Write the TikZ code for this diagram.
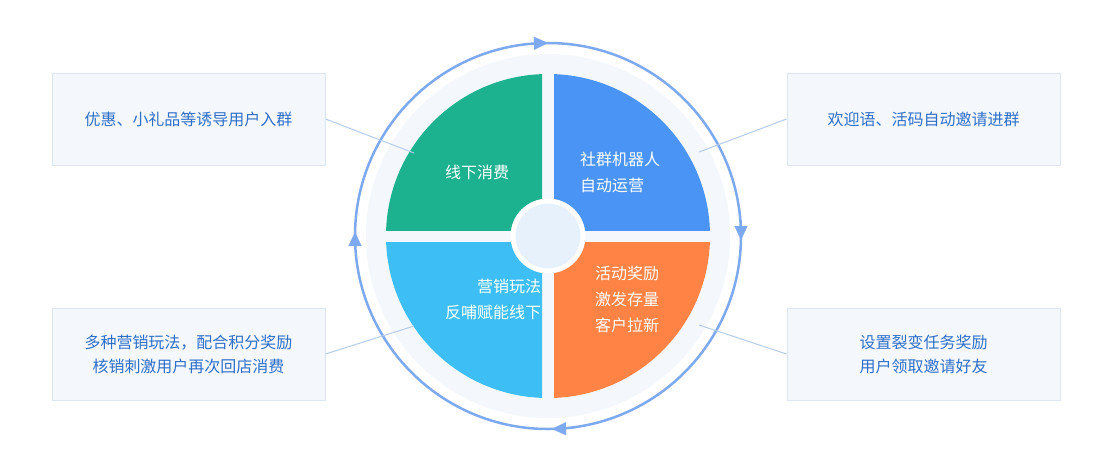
\documentclass[tikz,border=0pt]{standalone}
\usepackage{fontspec}
\setmainfont{Noto Sans CJK SC}
\usetikzlibrary{arrows.meta,calc}
\definecolor{qg}{HTML}{1DB28F}
\definecolor{qb}{HTML}{4A94F5}
\definecolor{qo}{HTML}{FF8344}
\definecolor{qc}{HTML}{3DBFF5}
\definecolor{ring}{HTML}{7DA9EE}
\definecolor{boxf}{HTML}{F4F8FC}
\definecolor{boxd}{HTML}{DCE6F1}
\definecolor{txt}{HTML}{2E6FC8}
\definecolor{lin}{HTML}{B5CDEB}
\definecolor{mid}{HTML}{E6F1FC}
\begin{document}
\begin{tikzpicture}[x=1pt,y=-1pt,
 box/.style={draw=boxd,fill=boxf,line width=1pt,minimum width=273pt,minimum height=92pt,font=\fontsize{16}{24}\selectfont,text=txt,align=center},
 qt/.style={text=white,font=\fontsize{16}{26}\selectfont,align=left},
 con/.style={draw=lin,line width=1pt},
 tip/.style={-{Triangle[length=14pt,width=13pt]}}]
\useasboundingbox (0,0) rectangle (1096,475);
\fill[white] (0,0) rectangle (1096,475);
\coordinate (c) at (548,236);
\fill[boxf] (c) circle (182);
\draw[ring,line width=2.5pt] (c) circle (193);
\foreach \col/\sx/\sy in {qg/-1/-1,qb/1/-1,qo/1/1,qc/-1/1}{
 \begin{scope}
  \clip ($(c)+(\sx*6,\sy*6)$) rectangle ($(c)+(\sx*200,\sy*200)$);
  \fill[\col] (c) circle (162);
 \end{scope}}
\draw[white,line width=5pt,fill=mid] (c) circle (35);
% arrowheads
\draw[ring,tip,line width=0.1pt] (525,43.5) -- (548,43);
\draw[ring,tip,line width=0.1pt] (741,220) -- (741,240);
\draw[ring,tip,line width=0.1pt] (575,428.5) -- (552,429);
\draw[ring,tip,line width=0.1pt] (355,255) -- (355,232);
% quadrant texts
\node[qt] (q1) at (477,172) {线下消费};
\node[qt] (q2) at (620,172) {社群机器人\\自动运营};
\node[qt,align=right] (q3) at (493,299) {营销玩法\\反哺赋能线下};
\node[qt] (q4) at (627,299) {活动奖励\\激发存量\\客户拉新};
% boxes
\node[box] (b1) at (188.5,119) {优惠、小礼品等诱导用户入群};
\node[box] (b2) at (923.5,119) {欢迎语、活码自动邀请进群};
\node[box] (b3) at (188.5,354) {多种营销玩法，配合积分奖励\\核销刺激用户再次回店消费};
\node[box] (b4) at (923.5,354) {设置裂变任务奖励\\用户领取邀请好友};
\coordinate (e1) at (414,153);
\coordinate (e2) at (699,152);
\coordinate (e3) at (414,326);
\coordinate (e4) at (699,325);
\draw[con] (b1.east) -- (e1);
\draw[con] (b2.west) -- (e2);
\draw[con] (b3.east) -- (e3);
\draw[con] (b4.west) -- (e4);
\end{tikzpicture}
\end{document}
